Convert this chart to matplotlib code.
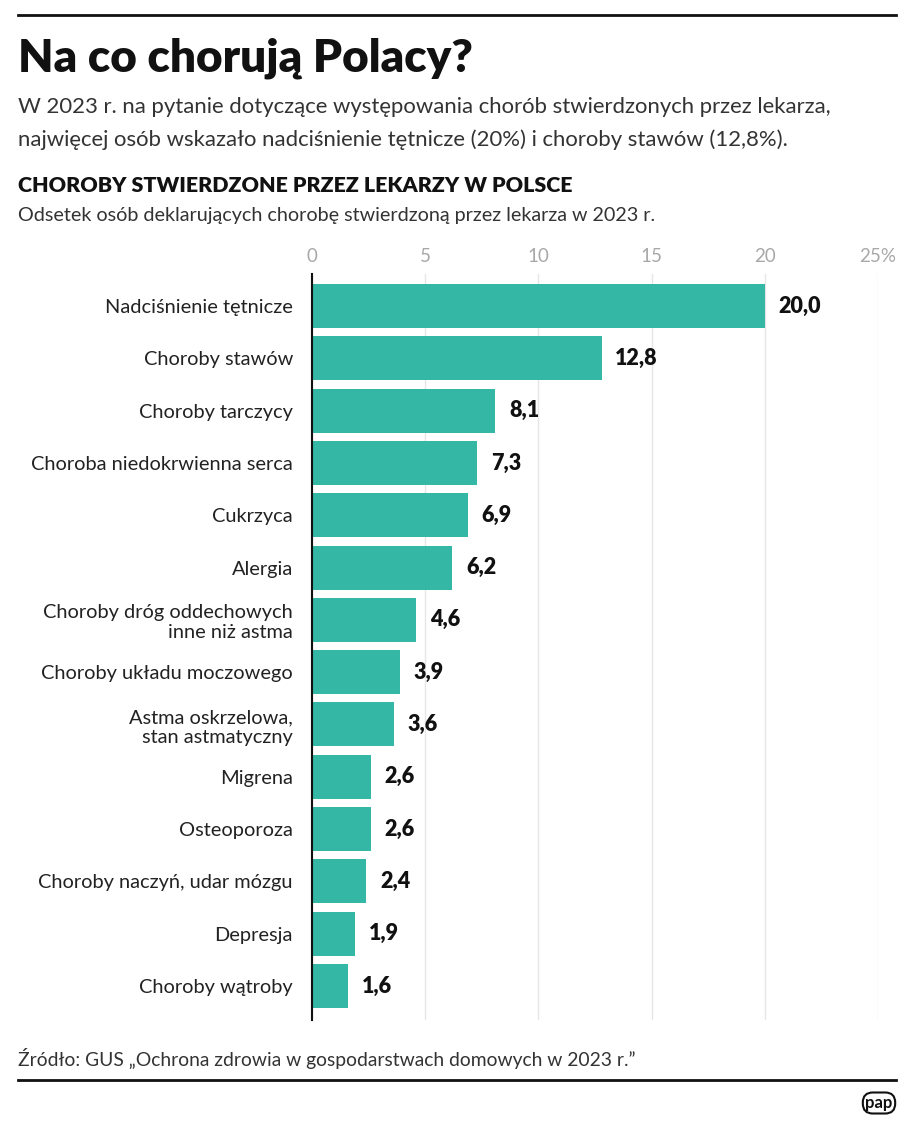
import matplotlib
matplotlib.use("Agg")
import matplotlib.pyplot as plt
import numpy as np

plt.rcParams['font.family'] = ['Lato', 'DejaVu Sans']

categories = ["Nadciśnienie tętnicze", "Choroby stawów", "Choroby tarczycy",
              "Choroba niedokrwienna serca", "Cukrzyca", "Alergia",
              "Choroby dróg oddechowych\ninne niż astma", "Choroby układu moczowego",
              "Astma oskrzelowa,\nstan astmatyczny", "Migrena", "Osteoporoza",
              "Choroby naczyń, udar mózgu", "Depresja", "Choroby wątroby"]
values = [20.0, 12.8, 8.1, 7.3, 6.9, 6.2, 4.6, 3.9, 3.6, 2.6, 2.6, 2.4, 1.9, 1.6]
ticks = [0, 5, 10, 15, 20, 25]
tick_labels = ["0", "5", "10", "15", "20", "25%"]

bar_color = "#35b7a5"

fig = plt.figure(figsize=(9.15, 11.28), dpi=100)
W, H = 915, 1128

def fx(px):
    return px / W

def fy(py):
    return 1 - py / H

# axes: x 312..878, y 274..1020
ax = fig.add_axes([fx(312), fy(1020), fx(878) - fx(312), fy(274) - fy(1020)])
y = np.arange(len(categories))
ax.barh(y, values, height=0.84, color=bar_color, zorder=3)
ax.set_xlim(0, 25)
ax.set_ylim(13.65, -0.612)
ax.set_xticks(ticks)
ax.set_xticklabels(tick_labels)
ax.xaxis.tick_top()
ax.tick_params(axis='x', length=0, pad=6.5, labelsize=13.5, labelcolor="#a8a8a8")
ax.set_yticks(y)
ax.set_yticklabels(categories, fontsize=14.4, color="#222222")
ax.tick_params(axis='y', length=0, pad=13.7)
for lab in ax.get_yticklabels():
    lab.set_horizontalalignment('right')
    lab.set_multialignment('right')
ax.grid(axis='x', color="#e6e6e6", linewidth=1, zorder=0)
for s in ['top', 'right', 'bottom']:
    ax.spines[s].set_visible(False)
ax.spines['left'].set_linewidth(1.5)
ax.spines['left'].set_color("#111111")
ax.spines['left'].set_zorder(4)

for yi, v in zip(y, values):
    ax.text(v + 0.6, yi, f"{v:.1f}".replace(".", ","), va='center', ha='left',
            fontsize=15.5, fontweight='heavy', color="#111111")

# header
fig.add_artist(plt.Line2D([fx(18), fx(896)], [fy(15), fy(15)], color="#111111", lw=2))
fig.text(fx(18), fy(58), "Na co chorują Polacy?", fontsize=33, fontweight='heavy',
         va='center', ha='left', color="#111111")
fig.text(fx(18), fy(107), "W 2023 r. na pytanie dotyczące występowania chorób stwierdzonych przez lekarza,",
         fontsize=15.9, va='center', ha='left', color="#333333")
fig.text(fx(18), fy(140), "najwięcej osób wskazało nadciśnienie tętnicze (20%) i choroby stawów (12,8%).",
         fontsize=15.9, va='center', ha='left', color="#333333")
fig.text(fx(18), fy(185), "CHOROBY STWIERDZONE PRZEZ LEKARZY W POLSCE", fontsize=15.4,
         fontweight='heavy', va='center', ha='left', color="#111111")
fig.text(fx(18), fy(215), "Odsetek osób deklarujących chorobę stwierdzoną przez lekarza w 2023 r.",
         fontsize=14.2, va='center', ha='left', color="#333333")

# footer
fig.text(fx(18), fy(1058), "Źródło: GUS „Ochrona zdrowia w gospodarstwach domowych w 2023 r.”",
         fontsize=13.9, va='center', ha='left', color="#333333")
fig.add_artist(plt.Line2D([fx(18), fx(896)], [fy(1080), fy(1080)], color="#111111", lw=2))
fig.text(fx(879), fy(1103), "pap", fontsize=12, fontweight='bold', va='center', ha='center',
         color="#111111",
         bbox=dict(boxstyle="round,pad=0.15,rounding_size=0.6", fc="white", ec="#111111", lw=1.5))

fig.savefig("out.png", dpi=100)
